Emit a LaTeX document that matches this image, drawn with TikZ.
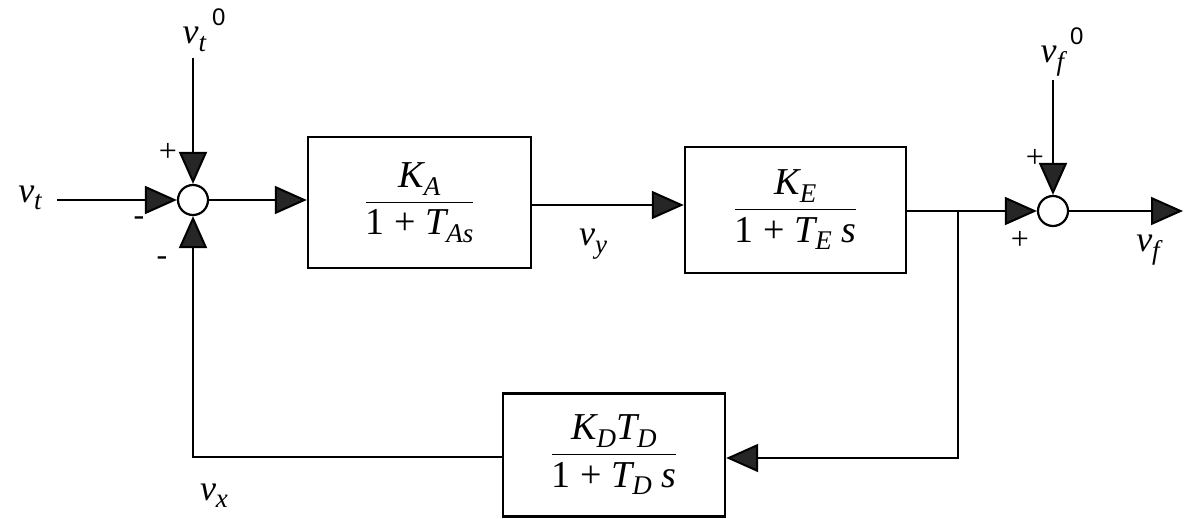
\documentclass[tikz,border=0pt]{standalone}
\usepackage{fontspec}
\setmainfont{Liberation Serif}
\setsansfont{Liberation Sans}
\usetikzlibrary{arrows.meta,calc}
\newcommand\lsub[1]{\raisebox{-0.45ex}{\fontsize{13.5}{14}\selectfont\itshape #1}}
\newcommand\lsup[1]{\raisebox{1.1ex}{\fontsize{12}{13}\selectfont\sffamily\upshape #1}}
\newcommand\tf[2]{$\displaystyle\frac{\hbox{#1}}{\hbox{#2}}$}
\begin{document}
\begin{tikzpicture}[x=0.5pt,y=-0.5pt,
  line width=1pt,
  sig/.style={-{Triangle[length=16pt,width=14pt,fill=black!85]}},
  blk/.style={draw, line width=1.2pt, rectangle, inner sep=0pt, font=\fontsize{19}{22}\selectfont},
  sumj/.style={draw, circle, line width=1.1pt, inner sep=0pt, minimum size=15pt},
  lbl/.style={font=\fontsize{18}{20}\selectfont\itshape, inner sep=0pt},
  sgn/.style={font=\fontsize{16}{16}\selectfont, inner sep=0pt}]
\useasboundingbox (0,0) rectangle (1184,519);
% summing junctions
\node[sumj] (s1) at (193,200) {};
\node[sumj] (s2) at (1053,211) {};
% blocks
\node[blk, minimum width=111.5pt, minimum height=65.5pt] (b1) at (419.5,202.5)
  {\tf{\itshape K\lsub{A}}{1 + \itshape T\lsub{As}}};
\node[blk, minimum width=110.5pt, minimum height=63pt] (b2) at (795.5,210)
  {\tf{\itshape K\lsub{E}}{1 + \itshape T\lsub{E} s}};
\node[blk, minimum width=111pt, minimum height=61.5pt] (b3) at (614,455)
  {\tf{\itshape K\lsub{D}T\lsub{D}}{1 + \itshape T\lsub{D} s}};
% free ends
\coordinate (vt0) at (193,58);
\coordinate (vtin) at (57,200);
\coordinate (vf0) at (1053,80);
\coordinate (out) at (1183,211);
\coordinate (j) at (958,211);
% connectors
\draw[sig] (vt0) -- (s1.north);
\draw[sig] (vtin) -- (s1.west);
\draw[sig] (s1.east) -- (s1.east -| b1.west);
\draw[sig] (b1.east |- 0,205) -- (b2.west |- 0,205);
\draw (b2.east |- s2) -- (j);
\draw[sig] (j) -- (s2.west);
\draw[sig] (vf0) -- (s2.north);
\draw[sig] (s2.east) -- (out);
\draw[sig] (j) |- ([yshift=-1.5pt]b3.east);
\draw[sig] ([yshift=-1pt]b3.west) -| (s1.south);
% labels
\node[lbl] (lvt0) at (204,30) {v\lsub{t}\,\lsup{0}};
\node[lbl] (lvt) at (30,198) {v\lsub{t}};
\node[sgn] (p1) at (168,152) {+};
\node[sgn] (m1) at (139,221) {-};
\node[sgn] (m2) at (162,261) {-};
\node[lbl] (lvy) at (593,244) {v\lsub{y}};
\node[lbl] (lvx) at (214,496) {v\lsub{x}};
\node[lbl] (lvf0) at (1062,52) {v\lsub{f}\,\lsup{0}};
\node[sgn] (p2) at (1035,158) {+};
\node[sgn] (p3) at (1020,240) {+};
\node[lbl] (lvf) at (1148,250) {v\lsub{f}};
\end{tikzpicture}
\end{document}
